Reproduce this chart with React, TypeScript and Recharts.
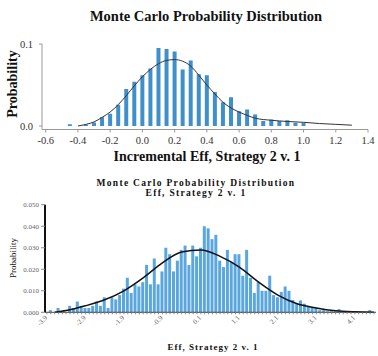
import React from 'react'
import { Bar, ComposedChart, Line, XAxis, YAxis } from 'recharts'

// top chart: incremental eff histogram (bin centre -> probability)
const incrX = [-0.45, -0.35, -0.3, -0.25, -0.2, -0.15, -0.1, -0.05, 0, 0.05, 0.1, 0.15, 0.2, 0.25, 0.3, 0.35, 0.4, 0.45, 0.5, 0.55, 0.6, 0.65, 0.7, 0.75, 0.8, 0.85, 0.9, 0.95, 1.0]
const incrProb = [0.0022, 0.0016, 0.0042, 0.0107, 0.0148, 0.026, 0.045, 0.054, 0.062, 0.07, 0.095, 0.094, 0.091, 0.069, 0.08, 0.063, 0.062, 0.0416, 0.029, 0.035, 0.018, 0.02, 0.014, 0.006, 0.008, 0.006, 0.007, 0.004, 0.004]
const incrCurveX = [-0.4, -0.35, -0.3, -0.25, -0.2, -0.15, -0.1, -0.05, 0, 0.05, 0.1, 0.15, 0.2, 0.25, 0.3, 0.35, 0.4, 0.45, 0.5, 0.55, 0.6, 0.65, 0.7, 0.8, 0.9, 1.0, 1.1, 1.2, 1.3]
const incrCurveProb = [0, 0.002, 0.005, 0.0105, 0.017, 0.026, 0.037, 0.049, 0.06, 0.069, 0.076, 0.08, 0.081, 0.079, 0.073, 0.062, 0.05, 0.039, 0.029, 0.022, 0.017, 0.013, 0.0095, 0.007, 0.0055, 0.0045, 0.003, 0.002, 0.001]
const incrTicks = [-0.6, -0.4, -0.2, 0, 0.2, 0.4, 0.6, 0.8, 1.0, 1.2, 1.4]

// bottom chart: eff histogram
const effBins = [
    '-4.0', '-3.9', '-3.8', '-3.7', '-3.6', '-3.5', '-3.4', '-3.3', '-3.2', '-3.1',
    '-3.0', '-2.9', '-2.8', '-2.7', '-2.6', '-2.5', '-2.4', '-2.3', '-2.2', '-2.1',
    '-2.0', '-1.9', '-1.8', '-1.7', '-1.6', '-1.5', '-1.4', '-1.3', '-1.2', '-1.1',
    '-1.0', '-0.9', '-0.8', '-0.7', '-0.6', '-0.5', '-0.4', '-0.3', '-0.2', '-0.1',
    '0.0', '0.1', '0.2', '0.3', '0.4', '0.5', '0.6', '0.7', '0.8', '0.9',
    '1.0', '1.1', '1.2', '1.3', '1.4', '1.5', '1.6', '1.7', '1.8', '1.9',
    '2.0', '2.1', '2.2', '2.3', '2.4', '2.5', '2.6', '2.7', '2.8', '2.9',
    '3.0', '3.1', '3.2', '3.3', '3.4', '3.5', '3.6', '3.7', '3.8', '3.9',
    '4.0', '4.1', '4.2', '4.3', '4.4', '4.5',
]
const effProb = [
    0, 0.001, 0, 0.002, 0.0005, 0, 0.003, 0.002, 0.005, 0.003,
    0.002, 0.002, 0.003, 0.005, 0.003, 0.007, 0.002, 0.007, 0.006, 0.008,
    0.011, 0.016, 0.009, 0.013, 0.012, 0.014, 0.022, 0.013, 0.025, 0.013,
    0.019, 0.03, 0.027, 0.019, 0.024, 0.029, 0.031, 0.022, 0.031, 0.026,
    0.03, 0.04, 0.039, 0.034, 0.036, 0.024, 0.021, 0.029, 0.0235, 0.027,
    0.027, 0.017, 0.029, 0.016, 0.009, 0.014, 0.01, 0.01, 0.017, 0.008,
    0.007, 0.0095, 0.012, 0.01, 0.0057, 0.004, 0.0055, 0.004, 0.003, 0.0025,
    0.002, 0.001, 0.001, 0.0005, 0.0005, 0.0005, 0.0015, 0.0003, 0.0003, 0.0002,
    0.0003, 0.0002, 0.0003, 0.0002, 0.001, 0,
]
const effCurveBins = ['-3.8', '-3.5', '-3.0', '-2.5', '-2.0', '-1.5', '-1.0', '-0.5', '0.0', '0.5', '1.0', '1.5', '2.0', '2.5', '3.0', '3.5', '4.0', '4.5']
const effCurveProb = [0, 0.0008, 0.003, 0.0058, 0.01, 0.016, 0.023, 0.028, 0.029, 0.026, 0.021, 0.014, 0.008, 0.004, 0.002, 0.0007, 0.0002, 0]
const effTickLabels = ['-3.9', '-2.9', '-1.9', '-0.9', '0.1', '1.1', '2.1', '3.1', '4.1']
const effYTicks = [0, 0.01, 0.02, 0.03, 0.04, 0.05]

const serif = '"Liberation Serif", "DejaVu Serif", serif'

type Row = { x: number; bar?: number; curve?: number }
const topMap = new Map<string, Row>()
incrX.forEach((x, i) => {
    const key = x.toFixed(2)
    topMap.set(key, { ...(topMap.get(key) ?? { x }), bar: incrProb[i] })
})
incrCurveX.forEach((x, i) => {
    const key = x.toFixed(2)
    topMap.set(key, { ...(topMap.get(key) ?? { x }), curve: incrCurveProb[i] })
})
const topData = [...topMap.values()].sort((a, b) => a.x - b.x)

const effData = effBins.map((bin, i) => {
    const c = effCurveBins.indexOf(bin)
    return { bin, prob: effProb[i], curve: c >= 0 ? effCurveProb[c] : undefined }
})

type TxtProps = { x: number; y: number; size: number; bold?: boolean; rotate?: number; spacing?: number; children: React.ReactNode }
const Txt = ({ x, y, size, bold, rotate = 0, spacing = 0, children }: TxtProps) => (
    <div
        style={{
            position: 'absolute',
            left: x,
            top: y,
            transform: `translate(-50%, -50%) rotate(${rotate}deg)`,
            fontFamily: serif,
            fontSize: size,
            fontWeight: bold ? 'bold' : 'normal',
            letterSpacing: spacing,
            whiteSpace: 'nowrap',
            lineHeight: 1,
            color: '#111',
        }}
    >
        {children}
    </div>
)

// rotated category labels, only every 10th bin gets one
const EffTick = ({ x, y, payload }: { x?: number; y?: number; payload?: { value: string } }) => {
    if (!payload || !effTickLabels.includes(payload.value)) return null
    return (
        <g transform={`translate(${Number(x) - 3},${Number(y) + 2})`}>
            <text fill="#666" fontFamily={serif} fontSize={7} textAnchor="end" transform="rotate(-45)" x={0} y={0}>
                {payload.value}
            </text>
        </g>
    )
}

export default function App() {
    return (
        <div style={{ position: 'absolute', left: 0, top: 0, width: 378, height: 356, background: '#fff', overflow: 'hidden' }}>
            <div style={{ position: 'absolute', left: 0, top: 0 }}>
                <ComposedChart data={topData} height={165} margin={{ bottom: 0, left: 0, right: 10, top: 44 }} width={378}>
                    <XAxis
                        allowDataOverflow
                        axisLine={{ stroke: '#999' }}
                        dataKey="x"
                        domain={[-0.623, 1.4]}
                        height={35.5}
                        tick={{ fill: '#333', fontFamily: serif, fontSize: 10.5 }}
                        tickFormatter={(v: number) => v.toFixed(1)}
                        tickLine={{ stroke: '#999' }}
                        tickMargin={4}
                        tickSize={3}
                        ticks={incrTicks}
                        type="number"
                    />
                    <YAxis
                        allowDataOverflow
                        axisLine={{ stroke: '#999' }}
                        domain={[-0.00427, 0.1]}
                        tick={{ fill: '#333', fontFamily: serif, fontSize: 10.5 }}
                        tickFormatter={(v: number) => v.toFixed(1)}
                        tickLine={{ stroke: '#999' }}
                        tickMargin={6}
                        tickSize={3}
                        ticks={[0, 0.1]}
                        type="number"
                        width={42}
                    />
                    <Bar barSize={4} dataKey="bar" fill="#3f8fca" isAnimationActive={false} />
                    <Line connectNulls dataKey="curve" dot={false} isAnimationActive={false} stroke="#333" strokeWidth={1} type="monotone" />
                </ComposedChart>
            </div>
            <Txt bold size={14.5} x={206} y={16}>Monte Carlo Probability Distribution</Txt>
            <Txt bold size={14} x={207} y={157}>Incremental Eff, Strategy 2 v. 1</Txt>
            <Txt bold rotate={-90} size={14} x={13} y={84}>Probability</Txt>

            <div style={{ position: 'absolute', left: 0, top: 170 }}>
                <ComposedChart barCategoryGap={1} data={effData} height={186} margin={{ bottom: 0, left: 0, right: 2, top: 34.7 }} width={378}>
                    <XAxis
                        axisLine={{ stroke: '#444' }}
                        dataKey="bin"
                        height={43.7}
                        interval={0}
                        tick={<EffTick />}
                        tickLine={{ stroke: '#888' }}
                        tickSize={2}
                        type="category"
                    />
                    <YAxis
                        axisLine={{ stroke: '#111', strokeWidth: 2 }}
                        domain={[0, 0.05]}
                        tick={{ fill: '#666', fontFamily: serif, fontSize: 7 }}
                        tickFormatter={(v: number) => v.toFixed(3)}
                        tickLine={{ stroke: '#888' }}
                        tickMargin={2}
                        tickSize={4}
                        ticks={effYTicks}
                        type="number"
                        width={45}
                    />
                    <Bar barSize={3} dataKey="prob" fill="#5aa6de" isAnimationActive={false} />
                    <Line connectNulls dataKey="curve" dot={false} isAnimationActive={false} stroke="#111" strokeWidth={1.5} type="monotone" />
                </ComposedChart>
            </div>
            <Txt bold size={9.5} spacing={1.3} x={196} y={183.5}>Monte Carlo Probability Distribution</Txt>
            <Txt bold size={9.5} spacing={1.3} x={196} y={193.5}>Eff, Strategy 2 v. 1</Txt>
            <Txt rotate={-90} size={9} x={13} y={258}>Probability</Txt>
            <Txt bold size={9} spacing={1} x={213} y={347}>Eff, Strategy 2 v. 1</Txt>
        </div>
    )
}
